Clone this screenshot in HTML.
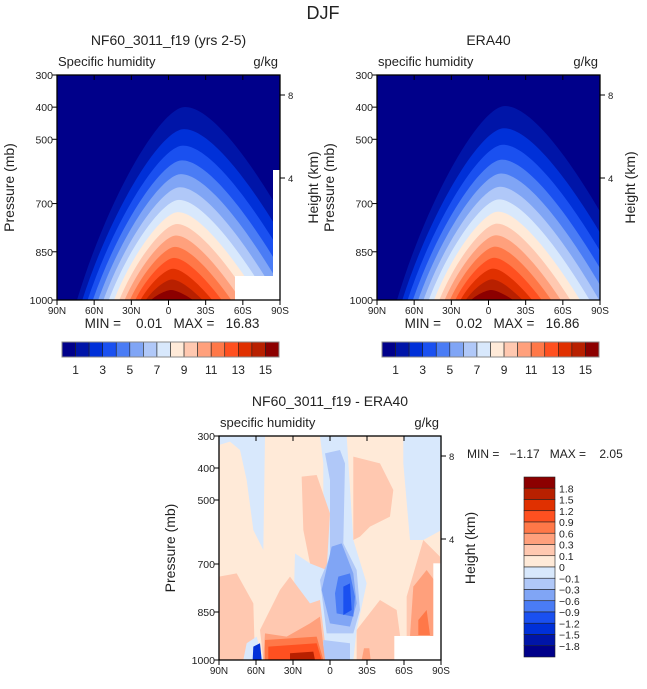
<!DOCTYPE html>
<html><head><meta charset="utf-8"><style>
body{margin:0;background:#fff;}
svg text{font-family:"Liberation Sans",sans-serif;fill:#222;white-space:pre;}
</style></head><body>
<svg id="s" width="647" height="684" xmlns="http://www.w3.org/2000/svg">
<defs>
<clipPath id="c1"><rect x="57" y="75" width="223" height="225"/></clipPath>
<clipPath id="c2"><rect x="377" y="75" width="223" height="225"/></clipPath>
</defs>
<rect width="647" height="684" fill="#fff"/>
<text x="323" y="19" font-size="18" text-anchor="middle" fill="#444">DJF</text>
<g id="p1" clip-path="url(#c1)"></g><g id="p2" clip-path="url(#c2)"></g>
<g id="p3">
<rect x="219" y="436" width="222" height="224" fill="#ffead8"/>
<g transform="translate(210,430) scale(0.3333)">
<polygon fill="#d8e8fc" points="27,18 165,18 160,360 130,300 110,150 90,60 60,35 27,45"/>
<polygon fill="#d8e8fc" points="580,18 695,18 695,300 640,330 600,330 580,100"/>
<polygon fill="#d8e8fc" points="330,18 410,18 430,330 470,460 440,600 430,690 340,690 330,600 250,560 255,370 300,400 340,350 340,100"/>
<polygon fill="#ffc8b0" points="275,140 320,135 360,250 350,420 300,400 280,300"/>
<polygon fill="#ffc8b0" points="430,80 510,100 550,180 540,260 480,290 450,320 430,330"/>
<polygon fill="#ffc8b0" points="27,440 80,430 130,520 135,690 27,690"/>
<polygon fill="#ffc8b0" points="150,600 210,480 240,440 300,520 330,510 345,640 160,690"/>
<polygon fill="#ffc8b0" points="440,600 510,510 560,540 580,690 440,690"/>
<polygon fill="#ffc8b0" points="590,500 640,330 690,380 690,620 590,620"/>
<polygon fill="#b0c8f8" points="345,70 390,60 405,100 400,340 440,420 450,540 430,610 350,610 330,450 360,380 360,150"/>
<polygon fill="#b0c8f8" points="340,630 420,640 420,690 340,690"/>
<polygon fill="#80a5f5" points="365,350 395,340 430,430 440,520 420,590 360,580 335,480"/>
<polygon fill="#4a7cf5" points="385,440 420,430 435,500 430,560 380,550 375,490"/>
<polygon fill="#1a50f0" points="400,470 420,460 425,540 400,555"/>
<polygon fill="#ffa07c" points="165,610 230,620 300,580 330,560 345,690 160,690"/>
<polygon fill="#ffa07c" points="610,470 650,420 680,460 670,620 600,620"/>
<polygon fill="#ff7848" points="625,570 650,540 660,615 625,615"/>
<polygon fill="#ff7848" points="165,630 320,620 340,690 165,690"/>
<polygon fill="#ff5020" points="175,650 320,640 335,690 175,690"/>
<polygon fill="#b82000" points="240,670 310,665 315,690 240,690"/>
<polygon fill="#ffa07c" points="455,690 462,655 478,655 482,690"/>
<polygon fill="#d8e8fc" points="110,640 140,620 160,690 100,690"/>
<polygon fill="#0030d8" points="130,650 150,640 155,690 128,690"/>
<rect x="553" y="618" width="145" height="75" fill="#fff"/>
<rect x="670" y="400" width="28" height="220" fill="#fff"/>
</g>
</g>
<g id="ax"></g>
</svg>
<script>
var C=["#00008a","#0015a8","#0030d8","#1a50f0","#4a7cf5","#80a5f5","#b0c8f8","#d8e8fc","#ffead8","#ffc8b0","#ffa07c","#ff7848","#ff5020","#e03000","#b82000","#8c0000"];
var NS="http://www.w3.org/2000/svg";
function el(p,t,a,txt){var e=document.createElementNS(NS,t);for(var k in a)e.setAttribute(k,a[k]);if(txt!=null)e.textContent=txt;p.appendChild(e);return e;}
function mountain(g,x0,w,y0,h,outTop,masks){
 el(g,"rect",{x:x0,y:y0,width:w,height:h,fill:C[0]});
 var yb=y0+h;
 for(var k=0;k<15;k++){var t=k/14;
  var top=outTop+(yb-10-outTop)*Math.pow(t,0.8);
  var cx=x0+128-14*t, wl=88*(1-t)+20, wr=120*(1-t)+22;
  var d="M"+(cx-wl)+","+yb+" C"+(cx-wl*0.7)+","+(top+(yb-top)*0.45)+" "+(cx-wl*0.22)+","+top+" "+cx+","+top+" C"+(cx+wr*0.22)+","+top+" "+(cx+wr*0.6)+","+(top+(yb-top)*0.4)+" "+(cx+wr)+","+yb+"Z";
  el(g,"path",{d:d,fill:C[k+1]});}
 masks.forEach(function(m){el(g,"rect",{x:m[0],y:m[1],width:m[2],height:m[3],fill:"#fff"});});
}
function axes(x0,w,y0,h,title,sub,lt,rt){
 var g=document.getElementById("ax");
 el(g,"rect",{x:x0,y:y0,width:w,height:h,fill:"none",stroke:"#000","stroke-width":1.3});
 var P=[300,400,500,700,850,1000];
 P.forEach(function(p){var y=y0+h*(p-300)/700;
  el(g,"line",{x1:x0-5,y1:y,x2:x0,y2:y,stroke:"#000"});
  el(g,"text",{x:x0-4,y:y+4,"font-size":10.5,"text-anchor":"end"},p);});
 var L=["90N","60N","30N","0","30S","60S","90S"];
 for(var i=0;i<7;i++){var x=x0+w*i/6;
  el(g,"line",{x1:x,y1:y0+h,x2:x,y2:y0+h+5,stroke:"#000"});
  el(g,"line",{x1:x,y1:y0,x2:x,y2:y0+5,stroke:"#000"});
  el(g,"text",{x:x,y:y0+h+14,"font-size":10,"text-anchor":"middle"},L[i]);}
 [[8,y0+20],[4,y0+103]].forEach(function(a){el(g,"line",{x1:x0+w,y1:a[1],x2:x0+w+5,y2:a[1],stroke:"#000"});
  el(g,"text",{x:x0+w+8,y:a[1]+4,"font-size":9.5},a[0]);});
 el(g,"text",{x:x0+w/2,y:y0-30,"font-size":14,"text-anchor":"middle"},title);
 el(g,"text",{x:x0+1,y:y0-9,"font-size":13},sub);
 el(g,"text",{x:x0+w-2,y:y0-9,"font-size":13,"text-anchor":"end"},"g/kg");
 var yc=y0+h/2;
 el(g,"text",{x:0,y:0,"font-size":14,"text-anchor":"middle",fill:"#444",transform:"translate("+lt+","+yc+") rotate(-90)"},"Pressure (mb)");
 el(g,"text",{x:0,y:0,"font-size":14,"text-anchor":"middle",fill:"#444",transform:"translate("+rt+","+yc+") rotate(-90)"},"Height (km)");
}
function hbar(x0,y0,mn,mx){
 var g=document.getElementById("ax"),bw=217/16;
 for(var i=0;i<16;i++)el(g,"rect",{x:x0+i*bw,y:y0,width:bw,height:15,fill:C[i],stroke:"#222","stroke-width":0.6});
 el(g,"rect",{x:x0,y:y0,width:217,height:15,fill:"none",stroke:"#888"});
 for(var j=0;j<8;j++)el(g,"text",{x:x0+bw*(j*2+1),y:y0+32,"font-size":12,"text-anchor":"middle"},2*j+1);
 el(g,"text",{x:x0+110,y:y0-14,"font-size":13.5,"text-anchor":"middle"},"MIN =    "+mn+"   MAX =   "+mx);
}
mountain(document.getElementById("p1"),57,223,75,225,107,[[235,276,45,24],[273,170,7,130]]);
mountain(document.getElementById("p2"),377,223,75,225,106,[]);
axes(57,223,75,225,"NF60_3011_f19 (yrs 2-5)","Specific humidity",14,318);
axes(377,223,75,225,"ERA40","specific humidity",334,635);
axes(219,222,436,224,"NF60_3011_f19 - ERA40","specific humidity",175,475);
hbar(62,342,"0.01","16.83");
hbar(382,342,"0.02","16.86");
var g=document.getElementById("ax");
el(g,"text",{x:467,y:458,"font-size":12},"MIN =   \u22121.17   MAX =    2.05");
var VL=["1.8","1.5","1.2","0.9","0.6","0.3","0.1","0","\u22120.1","\u22120.3","\u22120.6","\u22120.9","\u22121.2","\u22121.5","\u22121.8"];
for(var i=0;i<16;i++){el(g,"rect",{x:524,y:477+i*11.25,width:31,height:11.25,fill:C[15-i],stroke:"#222","stroke-width":0.6});}
for(var i=0;i<15;i++)el(g,"text",{x:559,y:477+(i+1)*11.25+4,"font-size":10.5},VL[i]);
</script>
</body></html>
